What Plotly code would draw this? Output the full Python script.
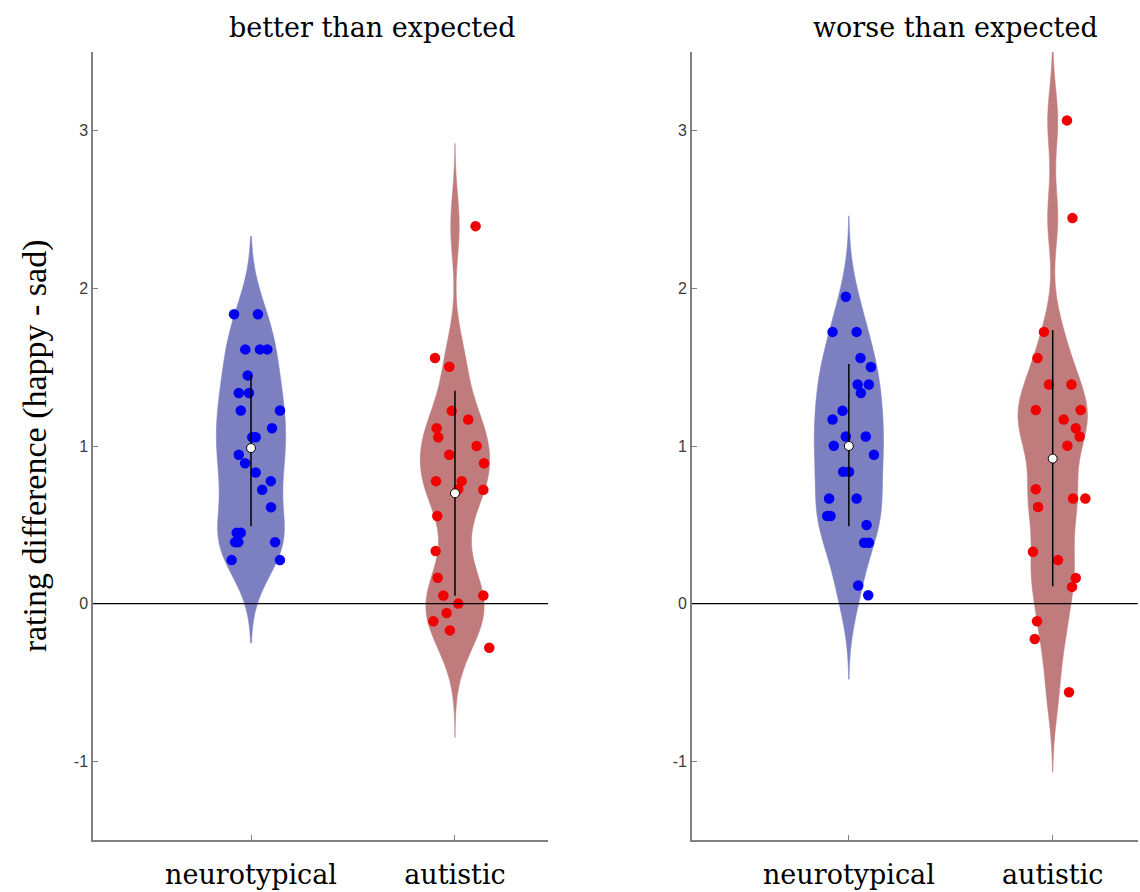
import plotly.graph_objects as go

# ---------------- data ----------------
groups = ["neurotypical", "autistic"]
panel_titles = ["better than expected", "worse than expected"]
y_label = "rating difference (happy - sad)"
y_ticks = [-1, 0, 1, 2, 3]
y_tick_labels = ["-1", "0", "1", "2", "3"]

# better than expected
nt_better = [1.836, 1.836, 1.613, 1.613, 1.613, 1.448, 1.336, 1.336, 1.225, 1.225,
             1.113, 1.055, 1.055, 0.945, 0.89, 0.832, 0.777, 0.722, 0.611, 0.45,
             0.45, 0.39, 0.39, 0.39, 0.276, 0.276]
nt_better_jitter = [-0.083, 0.034, -0.028, 0.044, 0.080, -0.016, -0.060, -0.010, -0.050, 0.142,
                    0.103, 0.006, 0.023, -0.060, -0.029, 0.023, 0.097, 0.055, 0.098, -0.070,
                    -0.050, -0.078, -0.062, 0.118, -0.095, 0.142]
au_better = [2.395, 1.558, 1.503, 1.223, 1.168, 1.113, 1.055, 1.0, 0.945, 0.89,
             0.777, 0.777, 0.726, 0.722, 0.556, 0.333, 0.164, 0.051, 0.051, 0.0,
             -0.06, -0.112, -0.17, -0.28]
au_better_jitter = [0.101, -0.098, -0.028, -0.016, 0.065, -0.090, -0.082, 0.106, -0.028, 0.142,
                    -0.093, 0.033, 0.016, 0.139, -0.087, -0.095, -0.085, -0.057, 0.139, 0.016,
                    -0.041, -0.106, -0.025, 0.168]

# worse than expected
nt_worse = [1.947, 1.724, 1.724, 1.558, 1.501, 1.39, 1.39, 1.336, 1.223, 1.168,
            1.06, 1.06, 1.002, 0.945, 0.836, 0.836, 0.667, 0.667, 0.556, 0.556,
            0.499, 0.386, 0.386, 0.115, 0.053]
nt_worse_jitter = [-0.015, -0.080, 0.038, 0.057, 0.108, 0.043, 0.098, 0.059, -0.031, -0.080,
                   -0.015, 0.083, -0.074, 0.123, -0.028, 0.001, -0.097, 0.038, -0.106, -0.090,
                   0.087, 0.075, 0.098, 0.046, 0.095]
au_worse = [3.066, 2.446, 1.724, 1.558, 1.39, 1.39, 1.229, 1.229, 1.168, 1.113,
            1.06, 1.002, 0.726, 0.667, 0.667, 0.613, 0.329, 0.276, 0.163, 0.106,
            -0.112, -0.225, -0.562]
au_worse_jitter = [0.070, 0.097, -0.043, -0.075, -0.018, 0.092, -0.083, 0.137, 0.054, 0.113,
                   0.132, 0.072, -0.083, 0.100, 0.160, -0.072, -0.097, 0.026, 0.113, 0.095,
                   -0.077, -0.088, 0.080]

# summary: mean, lower end, upper end of the vertical line
nt_better_stats = [0.987, 0.49, 1.45]
au_better_stats = [0.70, 0.05, 1.35]
nt_worse_stats = [1.00, 0.49, 1.52]
au_worse_stats = [0.92, 0.11, 1.735]

# extent of each violin
nt_better_span = [-0.25, 2.33]
au_better_span = [-0.85, 2.92]
nt_worse_span = [-0.48, 2.46]
au_worse_span = [-1.07, 3.6]

# ---------------- style ----------------
VIOLIN_FILL = ["rgb(124,128,192)", "rgb(192,124,124)"]
POINT_COLOR = ["rgb(0,0,245)", "rgb(240,0,0)"]
BANDWIDTH = [0.21, 0.2]
VIOLIN_WIDTH = 0.34
SERIF = "DejaVu Serif"
AXIS_GREY = "rgb(128,128,128)"

fig = go.Figure()

panels = [
    [(nt_better, nt_better_jitter, nt_better_stats, nt_better_span),
     (au_better, au_better_jitter, au_better_stats, au_better_span)],
    [(nt_worse, nt_worse_jitter, nt_worse_stats, nt_worse_span),
     (au_worse, au_worse_jitter, au_worse_stats, au_worse_span)],
]

for p, panel in enumerate(panels):
    xa = "x" if p == 0 else "x2"
    ya = "y" if p == 0 else "y2"
    for g, (vals, jit, stats, span) in enumerate(panel):
        pos = g + 1
        fig.add_trace(go.Violin(
            x=[pos] * len(vals), y=vals, xaxis=xa, yaxis=ya,
            bandwidth=BANDWIDTH[g], spanmode="manual", span=span,
            width=VIOLIN_WIDTH, scalemode="width", points=False,
            fillcolor=VIOLIN_FILL[g], line=dict(color=VIOLIN_FILL[g], width=0.5),
            opacity=1, box_visible=False, meanline_visible=False,
            showlegend=False, hoverinfo="skip"))

for p, panel in enumerate(panels):
    xa = "x" if p == 0 else "x2"
    ya = "y" if p == 0 else "y2"
    for g, (vals, jit, stats, span) in enumerate(panel):
        pos = g + 1
        fig.add_trace(go.Scatter(
            x=[pos + j for j in jit], y=vals, xaxis=xa, yaxis=ya, mode="markers",
            marker=dict(color=POINT_COLOR[g], size=10.5, line=dict(width=0)),
            showlegend=False))
        fig.add_trace(go.Scatter(
            x=[pos, pos], y=[stats[1], stats[2]], xaxis=xa, yaxis=ya, mode="lines",
            line=dict(color="black", width=1.5), showlegend=False))
        fig.add_trace(go.Scatter(
            x=[pos], y=[stats[0]], xaxis=xa, yaxis=ya, mode="markers",
            marker=dict(color="white", size=9, line=dict(color="black", width=1)),
            showlegend=False))

axis_common = dict(showline=True, linecolor=AXIS_GREY, linewidth=1.5,
                   ticks="inside", tickcolor=AXIS_GREY, ticklen=5, tickwidth=1,
                   showgrid=False, zeroline=False, mirror=False)

xcommon = dict(axis_common, tickvals=[1, 2], ticktext=groups,
               tickfont=dict(family=SERIF, size=27, color="black"),
               ticklabelstandoff=10)
ycommon = dict(axis_common, range=[-1.5, 3.5], tickvals=y_ticks, ticktext=y_tick_labels,
               tickfont=dict(family="Liberation Sans", size=16, color="rgb(60,60,60)"))

fig.update_layout(
    width=1140, height=892,
    margin=dict(l=0, r=0, t=0, b=0),
    paper_bgcolor="white", plot_bgcolor="white",
    violinmode="overlay",
    xaxis=dict(xcommon, domain=[0.0816, 0.4807], range=[0.2255, 2.456], anchor="y"),
    yaxis=dict(ycommon, domain=[0.0583, 0.9417], anchor="x"),
    xaxis2=dict(xcommon, domain=[0.607, 0.998], range=[0.2304, 2.417], anchor="y2"),
    yaxis2=dict(ycommon, domain=[0.0583, 0.9417], anchor="x2"),
)

for xref, yref in [("x domain", "y"), ("x2 domain", "y2")]:
    fig.add_shape(type="line", xref=xref, yref=yref, x0=0, x1=1, y0=0, y1=0,
                  line=dict(color="black", width=1.2), layer="above")

fig.add_annotation(text=panel_titles[0], xref="paper", yref="paper", x=0.326, y=0.969,
                   xanchor="center", yanchor="middle", showarrow=False,
                   font=dict(family=SERIF, size=27, color="black"))
fig.add_annotation(text=panel_titles[1], xref="paper", yref="paper", x=0.838, y=0.969,
                   xanchor="center", yanchor="middle", showarrow=False,
                   font=dict(family=SERIF, size=27, color="black"))
fig.add_annotation(text=y_label, xref="paper", yref="paper", x=0.031, y=0.5,
                   xanchor="center", yanchor="middle",
                   textangle=-90, showarrow=False,
                   font=dict(family="Liberation Serif", size=34, color="black"))

fig.write_html("out.html", config={"displayModeBar": False},
               post_script="document.body.style.margin='0px';")
